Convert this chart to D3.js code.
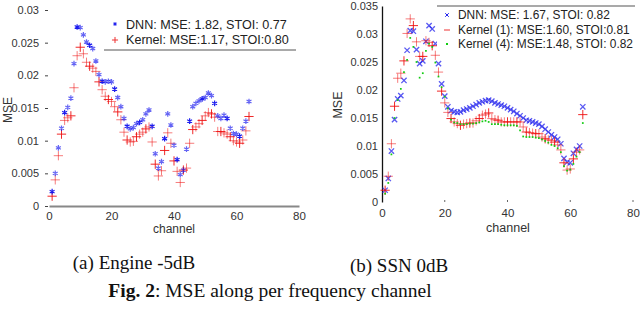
<!DOCTYPE html>
<html>
<head>
<meta charset="utf-8">
<script src="https://cdn.jsdelivr.net/npm/d3@7"></script>
<style>
  body { margin: 0; background: #fff; }
  svg text { font-family: "Liberation Sans", Arial, sans-serif; }
  .cap { font-family: "Liberation Serif", "Times New Roman", serif; fill: #111; }
</style>
</head>
<body>
<svg id="fig" width="640" height="316"></svg>
<script>

// channel index (x categories)
var channels = d3.range(1, 65);
var xTicks = [0, 20, 40, 60, 80];

// (a) Engine -5dB
var engineTicks = [0, 0.005, 0.01, 0.015, 0.02, 0.025, 0.03];
var engineDNN = [0.0022, 0.0050, 0.0089, 0.0119, 0.0143, 0.0151, 0.0165, 0.0218, 0.0274, 0.0273,
  0.0262, 0.0251, 0.0246, 0.0241, 0.0222, 0.0201, 0.0191, 0.0190, 0.0191, 0.0190,
  0.0179, 0.0166, 0.0152, 0.0134, 0.0122, 0.0118, 0.0120, 0.0126, 0.0128, 0.0132,
  0.0141, 0.0147, 0.0122, 0.0080, 0.0058, 0.0068, 0.0103, 0.0141, 0.0124, 0.0093,
  0.0071, 0.0048, 0.0055, 0.0087, 0.0130, 0.0152, 0.0157, 0.0161, 0.0164, 0.0166,
  0.0173, 0.0169, 0.0157, 0.0138, 0.0134, 0.0139, 0.0134, 0.0119, 0.0111, 0.0110,
  0.0107, 0.0119, 0.0130, 0.0160];
var engineKernel = [0.0015, 0.0040, 0.0077, 0.0110, 0.0131, 0.0135, 0.0138, 0.0181, 0.0230, 0.0243,
  0.0233, 0.0220, 0.0214, 0.0211, 0.0206, 0.0190, 0.0178, 0.0168, 0.0163, 0.0160,
  0.0152, 0.0144, 0.0132, 0.0113, 0.0101, 0.0098, 0.0099, 0.0106, 0.0110, 0.0113,
  0.0118, 0.0121, 0.0098, 0.0064, 0.0046, 0.0054, 0.0085, 0.0112, 0.0096, 0.0069,
  0.0053, 0.0036, 0.0055, 0.0058, 0.0096, 0.0117, 0.0121, 0.0126, 0.0131, 0.0138,
  0.0143, 0.0141, 0.0136, 0.0114, 0.0114, 0.0112, 0.0110, 0.0106, 0.0100, 0.0098,
  0.0096, 0.0101, 0.0115, 0.0137];

// (b) SSN 0dB
var ssnTicks = [0, 0.005, 0.01, 0.015, 0.02, 0.025, 0.03, 0.035];
var ssnDNN = [0.0021, 0.0042, 0.0091, 0.0147, 0.0184, 0.0190, 0.0217, 0.0271, 0.0306, 0.0305,
  0.0272, 0.0247, 0.0252, 0.0287, 0.0315, 0.0309, 0.0283, 0.0247, 0.0211, 0.0189,
  0.0170, 0.0163, 0.0161, 0.0160, 0.0161, 0.0164, 0.0166, 0.0168, 0.0171, 0.0174,
  0.0177, 0.0179, 0.0181, 0.0182, 0.0180, 0.0177, 0.0175, 0.0173, 0.0171, 0.0168,
  0.0165, 0.0162, 0.0158, 0.0154, 0.0150, 0.0146, 0.0145, 0.0143, 0.0141, 0.0139,
  0.0135, 0.0130, 0.0125, 0.0120, 0.0116, 0.0112, 0.0104, 0.0078, 0.0071, 0.0070,
  0.0087, 0.0094, 0.0100, 0.0170];
var ssnKernel1 = [0.0021, 0.0046, 0.0104, 0.0171, 0.0221, 0.0230, 0.0252, 0.0301, 0.0327, 0.0315,
  0.0286, 0.0260, 0.0260, 0.0288, 0.0285, 0.0279, 0.0262, 0.0232, 0.0198, 0.0177,
  0.0160, 0.0149, 0.0143, 0.0140, 0.0137, 0.0139, 0.0140, 0.0141, 0.0141, 0.0145,
  0.0149, 0.0155, 0.0157, 0.0159, 0.0149, 0.0147, 0.0146, 0.0143, 0.0143, 0.0143,
  0.0143, 0.0143, 0.0143, 0.0143, 0.0134, 0.0125, 0.0124, 0.0123, 0.0122, 0.0122,
  0.0116, 0.0113, 0.0111, 0.0110, 0.0107, 0.0102, 0.0093, 0.0070, 0.0057, 0.0059,
  0.0077, 0.0089, 0.0093, 0.0156];
var ssnKernel4 = [0.0015, 0.0034, 0.0085, 0.0150, 0.0182, 0.0202, 0.0232, 0.0254, 0.0293, 0.0277,
  0.0250, 0.0222, 0.0230, 0.0270, 0.0283, 0.0277, 0.0249, 0.0224, 0.0205, 0.0188,
  0.0167, 0.0147, 0.0142, 0.0141, 0.0139, 0.0139, 0.0139, 0.0140, 0.0140, 0.0141,
  0.0142, 0.0144, 0.0145, 0.0143, 0.0139, 0.0139, 0.0139, 0.0138, 0.0137, 0.0137,
  0.0137, 0.0137, 0.0136, 0.0128, 0.0117, 0.0116, 0.0116, 0.0116, 0.0115, 0.0114,
  0.0112, 0.0109, 0.0106, 0.0102, 0.0100, 0.0096, 0.0089, 0.0064, 0.0056, 0.0058,
  0.0068, 0.0081, 0.0089, 0.0141];

var svg = d3.select("#fig");

var symAst = d3.symbol().type(d3.symbolAsterisk).size(22);
var symPlus = d3.symbol().type(d3.symbolPlus).size(30);
var symTimes = d3.symbol().type(d3.symbolTimes).size(20);
var symDot = d3.symbol().type(d3.symbolSquare).size(3);


// ---------- panel (a) ----------

var xa = d3.scaleLinear().domain([0, 80]).range([49, 299]);
var ya = d3.scaleLinear().domain([0, 0.03]).range([206, 10]);

var gA = svg.append("g");

gA.append("g")
  .attr("transform", "translate(45,0)")
  .call(d3.axisLeft(ya).tickValues(engineTicks).tickFormat(d3.format("")).tickSize(3).tickPadding(3))
  .call(function(g) { g.select(".domain").remove(); })
  .call(function(g) {
    g.selectAll(".tick line").attr("x2", 3).attr("stroke", "#444");
    g.selectAll("text").attr("font-size", 11).attr("fill", "#333");
  });

gA.append("g")
  .attr("transform", "translate(0,206)")
  .call(d3.axisBottom(xa).tickValues(xTicks).tickSize(0).tickPadding(6))
  .call(function(g) {
    g.select(".domain").attr("stroke", "#888").attr("stroke-width", 2);
    g.selectAll("text").attr("font-size", 11.5).attr("fill", "#333");
  });

gA.append("text").attr("x", 174).attr("y", 233).attr("text-anchor", "middle")
  .attr("font-size", 12).attr("fill", "#333").text("channel");
gA.append("text").attr("transform", "translate(12,110) rotate(-90)")
  .attr("text-anchor", "middle").attr("font-size", 12).attr("fill", "#333").text("MSE");

gA.selectAll(".ker")
  .data(engineKernel).enter()
  .append("path")
  .attr("d", symPlus)
  .attr("transform", function(d, i) { return "translate(" + xa(channels[i]) + "," + ya(d) + ")"; })
  .attr("fill", "none")
  .attr("stroke", "#ee1111")
  .attr("stroke-width", 1)
  .attr("stroke-opacity", function(d, i) { return i % 3 == 0 ? 0.9 : 0.55; });

gA.selectAll(".dnn")
  .data(engineDNN).enter()
  .append("path")
  .attr("d", symAst)
  .attr("transform", function(d, i) { return "translate(" + xa(channels[i]) + "," + ya(d) + ")"; })
  .attr("fill", "none")
  .attr("stroke", "#1111ee")
  .attr("stroke-width", 1.2)
  .attr("stroke-opacity", function(d, i) { return i % 4 == 0 ? 0.95 : 0.65; });

// legend (a)
var legA = gA.append("g");
legA.append("rect").attr("x", 104).attr("y", 14).attr("width", 192).attr("height", 36).attr("fill", "#fff");
legA.append("line").attr("x1", 104).attr("x2", 296).attr("y1", 50).attr("y2", 50)
  .attr("stroke", "#555").attr("stroke-width", 1);
legA.append("path").attr("d", d3.symbol().type(d3.symbolAsterisk).size(10))
  .attr("transform", "translate(115,24)").attr("fill", "none").attr("stroke", "#1111ee");
legA.append("path").attr("d", d3.symbol().type(d3.symbolPlus).size(14))
  .attr("transform", "translate(115,40)").attr("fill", "none").attr("stroke", "#ee3333");
legA.append("text").attr("x", 126).attr("y", 29).attr("font-size", 12.6).attr("fill", "#222")
  .text("DNN: MSE: 1.82, STOI: 0.77");
legA.append("text").attr("x", 126).attr("y", 44).attr("font-size", 12.6).attr("fill", "#222")
  .text("Kernel: MSE:1.17, STOI:0.80");


// ---------- panel (b) ----------

var xb = d3.scaleLinear().domain([0, 80]).range([382, 633]);
var yb = d3.scaleLinear().domain([0, 0.035]).range([202, 6]);

var gB = svg.append("g");

gB.append("g")
  .attr("transform", "translate(382,0)")
  .call(d3.axisLeft(yb).tickValues(ssnTicks).tickFormat(d3.format("")).tickSize(0).tickPadding(4).tickSizeOuter(0))
  .call(function(g) {
    g.select(".domain").attr("stroke", "#111").attr("stroke-width", 1.3);
    g.selectAll("text").attr("font-size", 11).attr("fill", "#333");
  });

gB.append("g")
  .attr("transform", "translate(0,202)")
  .call(d3.axisBottom(xb).tickValues(xTicks).tickSize(0).tickPadding(7))
  .call(function(g) {
    g.select(".domain").remove();
    g.selectAll("text").attr("font-size", 11.5).attr("fill", "#333");
  });

gB.selectAll(".tickdot")
  .data(xTicks.slice(1)).enter()
  .append("rect")
  .attr("x", function(d) { return xb(d) - 0.5; })
  .attr("y", 200)
  .attr("width", 1).attr("height", 2)
  .attr("fill", "#666");

gB.append("text").attr("x", 508).attr("y", 232).attr("text-anchor", "middle")
  .attr("font-size", 12.5).attr("fill", "#333").text("channel");
gB.append("text").attr("transform", "translate(342,105) rotate(-90)")
  .attr("text-anchor", "middle").attr("font-size", 12.5).attr("fill", "#333").text("MSE");

gB.selectAll(".dnnb")
  .data(ssnDNN).enter()
  .append("path")
  .attr("d", symTimes)
  .attr("transform", function(d, i) { return "translate(" + xb(channels[i]) + "," + yb(d) + ")"; })
  .attr("fill", "none")
  .attr("stroke", "#2222ee")
  .attr("stroke-width", 1.3)
  .attr("stroke-opacity", 0.75);

gB.selectAll(".k1")
  .data(ssnKernel1).enter()
  .append("path")
  .attr("d", symPlus)
  .attr("transform", function(d, i) { return "translate(" + xb(channels[i]) + "," + yb(d) + ")"; })
  .attr("fill", "none")
  .attr("stroke", "#ee1111")
  .attr("stroke-width", 1)
  .attr("stroke-opacity", function(d, i) { return i % 3 == 0 ? 0.9 : 0.55; });

gB.selectAll(".k4")
  .data(ssnKernel4).enter()
  .append("path")
  .attr("d", symDot)
  .attr("transform", function(d, i) { return "translate(" + xb(channels[i]) + "," + yb(d) + ")"; })
  .attr("fill", "#11cc11");

// legend (b)
var legB = gB.append("g");
legB.append("rect").attr("x", 437).attr("y", 6).attr("width", 198).attr("height", 46).attr("fill", "#fff");
legB.append("line").attr("x1", 437).attr("x2", 635).attr("y1", 6).attr("y2", 6)
  .attr("stroke", "#555").attr("stroke-width", 1.2);
legB.append("path").attr("d", d3.symbol().type(d3.symbolTimes).size(10))
  .attr("transform", "translate(447,15)").attr("fill", "none").attr("stroke", "#2222ee");
legB.append("path").attr("d", "M-3,0H3")
  .attr("transform", "translate(447,30)").attr("stroke", "#ee3333");
legB.append("rect").attr("x", 446).attr("y", 43).attr("width", 2).attr("height", 2).attr("fill", "#11cc11");
legB.append("text").attr("x", 458).attr("y", 19).attr("font-size", 11.9).attr("fill", "#222")
  .text("DNN: MSE: 1.67, STOI: 0.82");
legB.append("text").attr("x", 458).attr("y", 34).attr("font-size", 11.9).attr("fill", "#222")
  .text("Kernel (1): MSE:1.60, STOI:0.81");
legB.append("text").attr("x", 458).attr("y", 48).attr("font-size", 11.9).attr("fill", "#222")
  .text("Kernel (4): MSE:1.48, STOI: 0.82");


// ---------- captions ----------

svg.append("text").attr("class", "cap").attr("x", 134).attr("y", 269)
  .attr("text-anchor", "middle").attr("font-size", 19).text("(a) Engine -5dB");
svg.append("text").attr("class", "cap").attr("x", 399).attr("y", 272)
  .attr("text-anchor", "middle").attr("font-size", 19).text("(b) SSN 0dB");

var fig = svg.append("text").attr("class", "cap").attr("x", 270).attr("y", 297)
  .attr("text-anchor", "middle").attr("font-size", 19.5);
fig.append("tspan").attr("font-weight", "bold").text("Fig. 2");
fig.append("tspan").text(": MSE along per frequency channel");

</script>
</body>
</html>
